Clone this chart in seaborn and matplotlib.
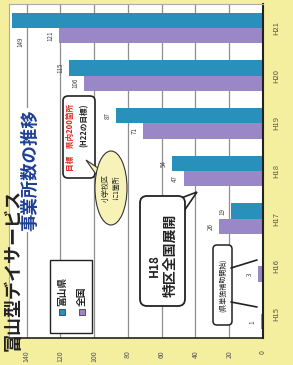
import pandas as pd
import matplotlib.pyplot as plt
import seaborn as sns
from matplotlib.patches import FancyBboxPatch, Ellipse, Rectangle, Polygon

# データ (図は90度回転した状態で描かれている)
years = ['H21', 'H20', 'H19', 'H18', 'H17', 'H16', 'H15']
toyama = [149, 115, 87, 54, 19, 0, 0]
zenkoku = [121, 106, 71, 47, 26, 3, 1]
ticks = [0, 20, 40, 60, 80, 100, 120, 140]

teal = '#2990bb'
purple = '#9a87c7'
yellow = '#f4ee9f'

df = pd.DataFrame({
    '年度': years * 2,
    '事業所数': toyama + zenkoku,
    '区分': ['富山県'] * len(years) + ['全国'] * len(years),
})

sns.set_style('white')
plt.rcParams['font.family'] = ['Noto Sans CJK JP', 'DejaVu Sans']

fig = plt.figure(figsize=(2.93, 3.65), dpi=100, facecolor=yellow)
ax = fig.add_axes([9 / 293, 27 / 365, 254 / 293, 334 / 365])
ax.set_facecolor('white')

sns.barplot(data=df, y='年度', x='事業所数', hue='区分', order=years,
            hue_order=['富山県', '全国'], palette=[teal, purple], orient='h',
            width=0.64, saturation=1, linewidth=0, legend=False, ax=ax)

ax.set_xlim(150.5, 0)
ax.set_ylim(6.5, -0.5)
ax.set_xticks(ticks)
ax.set_xticklabels([str(t) for t in ticks], rotation=90, fontsize=5, color='#555')
ax.yaxis.tick_right()
ax.set_yticks(range(len(years)))
ax.set_yticklabels(years, rotation=90, fontsize=5.5, color='#555', va='center')
ax.tick_params(axis='y', length=0, pad=7)
ax.tick_params(axis='x', length=3, width=0.8, pad=6)
ax.set_xlabel('')
ax.set_ylabel('')
ax.grid(axis='x', color='#8f8f8f', lw=0.9)
ax.set_axisbelow(True)
for s in ['top', 'left']:
    ax.spines[s].set_color('#aaaaaa')
    ax.spines[s].set_linewidth(0.8)
ax.spines['right'].set_color('#222')
ax.spines['right'].set_linewidth(1.5)
ax.spines['bottom'].set_color('#222')
ax.spines['bottom'].set_linewidth(1.2)

# 数値ラベル
for i, (t, z) in enumerate(zip(toyama, zenkoku)):
    for v, dy in [(t, -0.16), (z, 0.16)]:
        if v <= 0:
            continue
        x = v + 5
        y = i + dy
        if x > 146:
            x = 144
            y = i + 0.3
        ax.text(x, y, str(v), rotation=90, ha='center', va='center',
                fontsize=4.5, color='#444')

# 注記用のオーバーレイ (ピクセル座標)
ov = fig.add_axes([0, 0, 1, 1])
ov.set_xlim(0, 293)
ov.set_ylim(365, 0)
ov.axis('off')
ov.patch.set_alpha(0)

ov.text(13, 270, '富山型デイサービス', rotation=90, ha='center', va='center',
        fontsize=13, fontweight='bold', color='#222')
ov.text(30, 170, '事業所数の推移', rotation=90, ha='center', va='center',
        fontsize=12.5, fontweight='bold', color='#1d3f95',
        bbox=dict(facecolor='white', edgecolor='none', pad=1))

# 目標の枠
ov.add_patch(FancyBboxPatch((63, 96), 32, 82, boxstyle='round,pad=0,rounding_size=5',
                            facecolor='white', edgecolor='#222', lw=1.2))
ov.text(71, 137, '目標　県内200箇所', rotation=90, ha='center', va='center',
        fontsize=5.5, fontweight='bold', color='#d8261c')
ov.text(84, 125, '(H22の目標)', rotation=90, ha='center', va='center',
        fontsize=5.5, fontweight='bold', color='#222')

# 吹き出し
ov.add_patch(Polygon([(98, 168), (86, 160), (100, 180)], closed=True,
                     facecolor='#f7f3b8', edgecolor='#333', lw=0.8))
ov.add_patch(Ellipse((111, 188), 32, 74, facecolor='#f7f3b8', edgecolor='#333', lw=0.8))
ov.text(106, 188, '小学校区', rotation=90, ha='center', va='center', fontsize=5, color='#222')
ov.text(116, 188, 'に1箇所', rotation=90, ha='center', va='center', fontsize=5, color='#222')

# H18 特区全国展開
ov.add_patch(Polygon([(176, 200), (197, 192), (182, 214)], closed=True,
                     facecolor='white', edgecolor='#222', lw=1.2))
ov.add_patch(FancyBboxPatch((140, 196), 45, 110, boxstyle='round,pad=0,rounding_size=7',
                            facecolor='white', edgecolor='#222', lw=1.3))
ov.text(154, 266, 'H18', rotation=90, ha='center', va='center',
        fontsize=8.5, fontweight='bold', color='#222')
ov.text(170, 255, '特区全国展開', rotation=90, ha='center', va='center',
        fontsize=10, fontweight='bold', color='#222')

# 小さい枠
ov.plot([231, 257], [268, 260], color='#222', lw=1.2)
ov.plot([231, 257], [302, 307], color='#222', lw=1.2)
ov.add_patch(FancyBboxPatch((213, 245), 19, 80, boxstyle='round,pad=0,rounding_size=4',
                            facecolor='white', edgecolor='#222', lw=1.1))
ov.text(222.5, 285, '(県単独補助開始)', rotation=90, ha='center', va='center',
        fontsize=5, color='#222')

# 凡例
ov.add_patch(Rectangle((50, 260), 42, 73, facecolor='white', edgecolor='#222', lw=1.0))
ov.add_patch(Rectangle((59, 309), 6, 6, facecolor=teal, edgecolor='#222', lw=0.5))
ov.text(62, 291, '富山県', rotation=90, ha='center', va='center',
        fontsize=7, fontweight='bold', color='#222')
ov.add_patch(Rectangle((79, 309), 6, 6, facecolor=purple, edgecolor='#222', lw=0.5))
ov.text(82, 296, '全国', rotation=90, ha='center', va='center',
        fontsize=7, fontweight='bold', color='#222')

fig.savefig('out.png', dpi=100, facecolor=yellow)
